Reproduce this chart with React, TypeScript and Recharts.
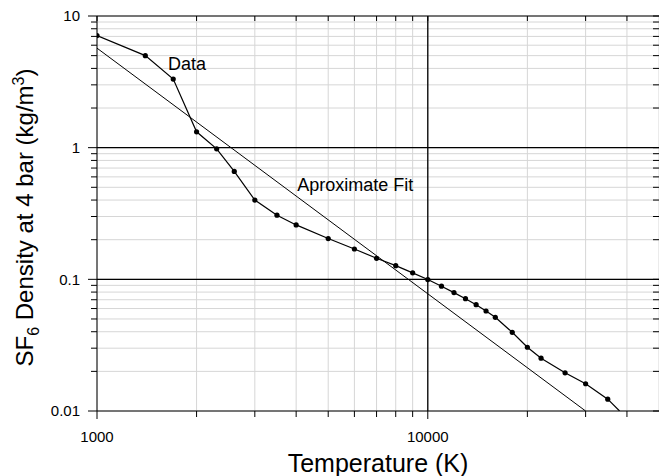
import React from "react";
import { LineChart, Line, XAxis, YAxis, CartesianGrid, ReferenceLine, ReferenceDot } from "recharts";

// measured SF6 density at 4 bar vs temperature
const temps = [1000, 1400, 1700, 2000, 2300, 2600, 3000, 3500, 4000, 5000, 6000, 7000, 8000, 9000, 10000,
  11000, 12000, 13000, 14000, 15000, 16000, 18000, 20000, 22000, 26000, 30000, 35000, 38000];
const density = [7.1, 5.0, 3.32, 1.32, 0.98, 0.66, 0.4, 0.307, 0.259, 0.204, 0.17, 0.1445, 0.127, 0.112, 0.0996,
  0.0887, 0.0793, 0.0713, 0.0642, 0.0575, 0.0515, 0.0396, 0.0305, 0.0252, 0.0195, 0.0161, 0.0123, 0.01];

// straight-line fit on log-log
const fitTemps = [1000, 30000];
const fitDensity = [5.7, 0.01];

const xMajor = [1000, 10000];
const xMinor = [2000, 3000, 4000, 5000, 6000, 7000, 8000, 9000, 20000, 30000, 40000];
const xLabels = ["1000", "10000"];
const yMajor = [0.01, 0.1, 1, 10];
const yMinor = [0.02, 0.03, 0.04, 0.05, 0.06, 0.07, 0.08, 0.09, 0.2, 0.3, 0.4, 0.5, 0.6, 0.7, 0.8, 0.9,
  2, 3, 4, 5, 6, 7, 8, 9];
const yLabels = ["0.01", "0.1", "1", "10"];

const dataPoints = temps.map((t, i) => ({ t, rho: density[i] }));
const fitPoints = fitTemps.map((t, i) => ({ t, rho: fitDensity[i] }));
const xTicks = [...xMajor, ...xMinor].sort((a, b) => a - b);
const yTicks = [...yMajor, ...yMinor].sort((a, b) => a - b);

const font = "Arial, 'Liberation Sans', sans-serif";

function BottomTick({ x, y, payload }: any) {
  const i = xMajor.indexOf(payload.value);
  return (
    <g>
      <line x1={x} x2={x} y1={y} y2={y + (i >= 0 ? 8 : 6)} stroke="#000" />
      {i >= 0 && (
        <text x={x} y={y + 26} dy="0.35em" textAnchor="middle" fontSize={15} fill="#000">
          {xLabels[i]}
        </text>
      )}
    </g>
  );
}

function TopTick({ x, y }: any) {
  return <line x1={x} x2={x} y1={y} y2={y + 5} stroke="#000" />;
}

function LeftTick({ x, y, payload }: any) {
  const i = yMajor.indexOf(payload.value);
  return (
    <g>
      <line x1={x - (i >= 0 ? 9 : 6)} x2={x} y1={y} y2={y} stroke="#000" />
      {i >= 0 && (
        <text x={x - 17} y={y} dy="0.35em" textAnchor="end" fontSize={15} fill="#000">
          {yLabels[i]}
        </text>
      )}
    </g>
  );
}

function RightTick({ x, y }: any) {
  return <line x1={x - 6} x2={x} y1={y} y2={y} stroke="#000" />;
}

const renderDot = (p: any) =>
  p.index === dataPoints.length - 1 ? (
    <g key={`d${p.index}`} />
  ) : (
    <circle key={`d${p.index}`} cx={p.cx} cy={p.cy} r={2.6} fill="#000" />
  );

const xTitle = ({ viewBox }: any) => (
  <text x={viewBox.x + viewBox.width / 2} y={viewBox.y + 61} textAnchor="middle" fontSize={25} fill="#000">
    Temperature (K)
  </text>
);

const yTitle = ({ viewBox }: any) => (
  <text transform={`translate(${viewBox.x + viewBox.width - 64}, ${viewBox.y + viewBox.height / 2 + 4}) rotate(-90)`}
    textAnchor="middle" fontSize={24} fill="#000">
    SF<tspan dy={6} fontSize={16}>6</tspan>
    <tspan dy={-6}> Density at 4 bar (kg/m</tspan>
    <tspan dy={-9} fontSize={16}>3</tspan>
    <tspan dy={9}>)</tspan>
  </text>
);

export default function App() {
  return (
    <div style={{ position: "absolute", left: 0, top: 0, width: 659, height: 476, overflow: "hidden", fontFamily: font, background: "#fff" }}>
      <LineChart width={660} height={476} margin={{ top: 15, right: 0, bottom: 64, left: 96 }}>
        <CartesianGrid stroke="#d6d6d6" strokeWidth={1} />
        <XAxis dataKey="t" type="number" scale="log" domain={[1000, 50000]} allowDataOverflow
          ticks={xTicks} interval={0} height={1} tickSize={0} tickMargin={0} tickLine={false}
          tick={BottomTick} axisLine={{ stroke: "#000" }} label={xTitle} />
        <XAxis xAxisId="top" orientation="top" dataKey="t" type="number" scale="log" domain={[1000, 50000]}
          allowDataOverflow ticks={xTicks} interval={0} height={1} tickSize={0} tickMargin={0} tickLine={false}
          tick={TopTick} axisLine={{ stroke: "#000" }} />
        <YAxis type="number" scale="log" domain={[0.01, 10]} allowDataOverflow ticks={yTicks} interval={0}
          width={1} tickSize={0} tickMargin={0} tickLine={false} tick={LeftTick}
          axisLine={{ stroke: "#000" }} label={yTitle} />
        <YAxis yAxisId="right" orientation="right" type="number" scale="log" domain={[0.01, 10]} allowDataOverflow
          ticks={yTicks} interval={0} width={1} tickSize={0} tickMargin={0} tickLine={false} tick={RightTick}
          axisLine={false} />
        <ReferenceLine x={10000} stroke="#000" strokeWidth={1.3} />
        <ReferenceLine y={1} stroke="#000" strokeWidth={1.3} />
        <ReferenceLine y={0.1} stroke="#000" strokeWidth={1.3} />
        <Line data={fitPoints} dataKey="rho" type="linear" stroke="#000" strokeWidth={1}
          dot={false} isAnimationActive={false} />
        <Line data={dataPoints} dataKey="rho" type="linear" stroke="#000" strokeWidth={1.2}
          dot={renderDot} activeDot={false} isAnimationActive={false} />
        <ReferenceDot x={1870} y={4.32} r={0} fill="none" stroke="none"
          label={{ value: "Data", position: "center", fontSize: 18, fill: "#000" }} />
        <ReferenceDot x={4030} y={0.52} r={0} fill="none" stroke="none"
          label={{ value: "Aproximate Fit", position: "right", offset: 0, fontSize: 18, fill: "#000" }} />
      </LineChart>
    </div>
  );
}
